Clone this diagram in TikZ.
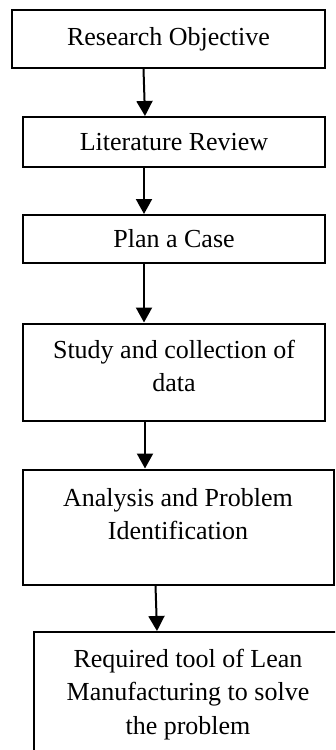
\documentclass[tikz,border=0pt]{standalone}
\usepackage{fontspec}
\setmainfont{Liberation Serif}
\usetikzlibrary{arrows.meta}

\tikzset{
  stage/.style={draw, line width=2pt, inner sep=0pt, align=center,
    font=\fontsize{26}{33.5}\selectfont},
  flow/.style={line width=2pt, -{Triangle[width=16pt,length=15pt]}}
}

\begin{document}
\begin{tikzpicture}[x=1pt,y=-1pt]
            \useasboundingbox (0,0) rectangle (335,750);
            \clip (0,0) rectangle (335,750);

            \node[stage, minimum width=313pt, minimum height=58pt] (obj) at (168.5, 39) {Research Objective};
            \node[stage, minimum width=302pt, minimum height=50pt] (lit) at (174, 142) {Literature Review};
            \node[stage, minimum width=302pt, minimum height=48pt] (plan) at (174, 239) {Plan a Case};
            \node[stage, minimum width=302pt, minimum height=97pt] (data) at (174, 372)
              {\parbox[c][92pt][t]{302pt}{\centering\vspace*{14pt}Study and collection of\\ data}};
            \node[stage, minimum width=311pt, minimum height=115pt] (anal) at (178, 527)
              {\parbox[c][110pt][t]{311pt}{\centering\vspace*{16pt}Analysis and Problem\\ Identification}};
            \node[stage, minimum width=308pt, minimum height=140pt] (tool) at (188, 702)
              {\parbox[c][134pt][t]{308pt}{\centering\vspace*{14pt}Required tool of Lean\\ Manufacturing to solve\\ the problem}};

            \draw[flow] ([xshift=-25pt]obj.south) to ([xshift=-29pt]lit.north);
            \draw[flow] ([xshift=-30pt]lit.south) to ([xshift=-30pt]plan.north);
            \draw[flow] ([xshift=-30pt]plan.south) to ([xshift=-30pt]data.north);
            \draw[flow] ([xshift=-29pt]data.south) to ([xshift=-33pt]anal.north);
            \draw[flow] ([xshift=-22.5pt]anal.south) to ([xshift=-31pt]tool.north);
        \end{tikzpicture}
\end{document}
